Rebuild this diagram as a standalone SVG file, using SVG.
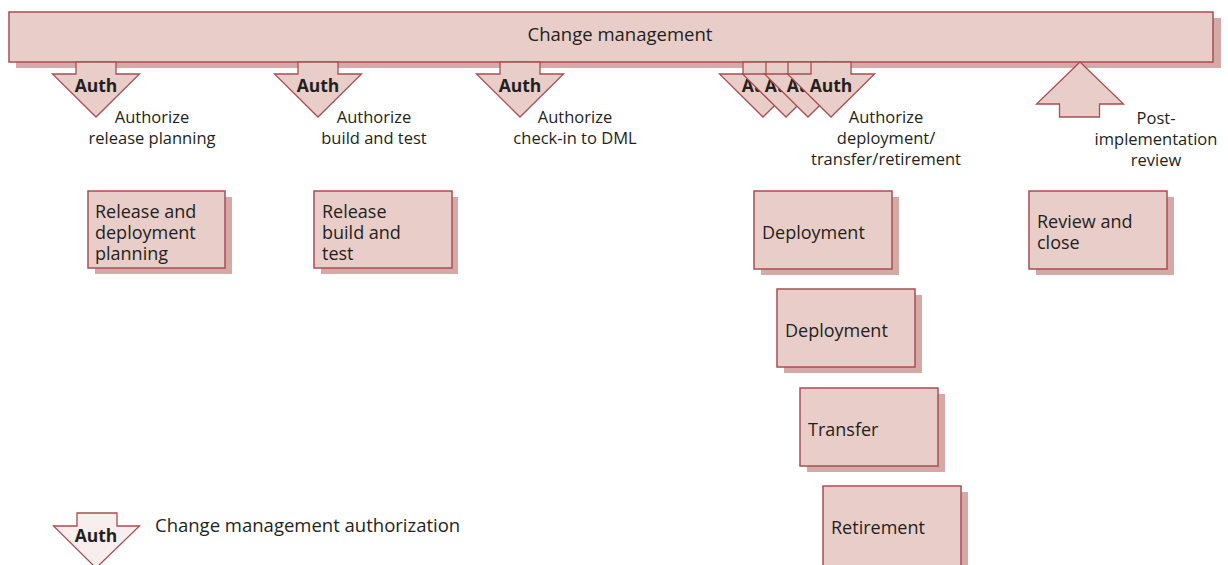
<svg xmlns="http://www.w3.org/2000/svg" width="1228" height="565" viewBox="0 0 1228 565">
<defs>
<style>
.sh{fill:#d5a9a6;stroke:none}
.bx{fill:#e9cdc9;stroke:#a94e52;stroke-width:1.5}
.ar{fill:#e9cdc9;stroke:#a94e52;stroke-width:1.3;stroke-linejoin:miter}
.lg{fill:#f8eeed;stroke:#a94e52;stroke-width:1.3}
text{font-family:"Open Sans","Noto Sans","Liberation Sans",sans-serif;fill:#231f20;font-size:16.5px}
.au{font-weight:bold;font-size:17.5px;text-anchor:middle}
.lb{text-anchor:middle}
.bt{font-size:18px}
</style>
<g id="authArrow">
<path d="M-20,0 V12 H-43.5 L0,55 L43.5,12 H20 V0 Z"/>
</g>
</defs>

<g id="change-management">
<rect class="sh" x="16" y="18" width="1205" height="50"/>
<rect class="bx" x="9" y="12" width="1204" height="50"/>
<text x="620" y="41" class="lb" style="font-size:18.5px">Change management</text>
</g>

<g id="connectors">
<g id="auth1">
<use href="#authArrow" class="ar" x="96" y="62"/>
<text x="96" y="92" class="au">Auth</text>
</g>
<g id="auth2">
<use href="#authArrow" class="ar" x="318" y="62"/>
<text x="318" y="92" class="au">Auth</text>
</g>
<g id="auth3">
<use href="#authArrow" class="ar" x="520" y="62"/>
<text x="520" y="92" class="au">Auth</text>
</g>
<g id="auth4a">
<use href="#authArrow" class="ar" x="763" y="62"/>
<text x="763" y="92" class="au">Auth</text>
</g>
<g id="auth4b">
<use href="#authArrow" class="ar" x="786" y="62"/>
<text x="786" y="92" class="au">Auth</text>
</g>
<g id="auth4c">
<use href="#authArrow" class="ar" x="808" y="62"/>
<text x="808" y="92" class="au">Auth</text>
</g>
<g id="auth4d">
<use href="#authArrow" class="ar" x="831" y="62"/>
<text x="831" y="92" class="au">Auth</text>
</g>
<g id="review-arrow">
<path class="ar" d="M1080,62 L1123.5,104 H1099.5 V117 H1059.5 V104 H1036.5 Z"/>
</g>
</g>

<g id="labels">
<text x="152" y="123" class="lb">Authorize</text>
<text x="152" y="144" class="lb">release planning</text>
<text x="374" y="123" class="lb">Authorize</text>
<text x="374" y="144" class="lb">build and test</text>
<text x="575" y="123" class="lb">Authorize</text>
<text x="575" y="144" class="lb">check-in to DML</text>
<text x="886" y="123" class="lb">Authorize</text>
<text x="886" y="144" class="lb">deployment/</text>
<text x="886" y="165" class="lb">transfer/retirement</text>
<text x="1156" y="124" class="lb">Post-</text>
<text x="1156" y="145" class="lb">implementation</text>
<text x="1156" y="166" class="lb">review</text>
</g>

<g id="release-planning">
<rect class="sh" x="95" y="197" width="137" height="77"/>
<rect class="bx" x="88" y="191" width="137" height="77"/>
<text class="bt" x="95" y="218">Release and</text>
<text class="bt" x="95" y="239">deployment</text>
<text class="bt" x="95" y="260">planning</text>
</g>

<g id="release-build">
<rect class="sh" x="321" y="197" width="137" height="77"/>
<rect class="bx" x="314" y="191" width="138" height="77"/>
<text class="bt" x="322" y="218">Release</text>
<text class="bt" x="322" y="239">build and</text>
<text class="bt" x="322" y="260">test</text>
</g>

<g id="deployment1">
<rect class="sh" x="761" y="197" width="138" height="78"/>
<rect class="bx" x="754" y="191" width="138" height="78"/>
<text class="bt" x="762" y="239">Deployment</text>
</g>

<g id="deployment2">
<rect class="sh" x="784" y="295" width="138" height="78"/>
<rect class="bx" x="777" y="289" width="138" height="78"/>
<text class="bt" x="785" y="337">Deployment</text>
</g>

<g id="transfer">
<rect class="sh" x="807" y="394" width="138" height="78"/>
<rect class="bx" x="800" y="388" width="138" height="78"/>
<text class="bt" x="808" y="436">Transfer</text>
</g>

<g id="retirement">
<rect class="sh" x="830" y="492" width="138" height="78"/>
<rect class="bx" x="823" y="486" width="138" height="82"/>
<text class="bt" x="831" y="534">Retirement</text>
</g>

<g id="review-close">
<rect class="sh" x="1036" y="197" width="138" height="78"/>
<rect class="bx" x="1029" y="191" width="138" height="78"/>
<text class="bt" x="1037" y="228">Review and</text>
<text class="bt" x="1037" y="249">close</text>
</g>

<g id="legend">
<path class="lg" d="M77,513 V526 H53.5 L96,568 L139.5,526 H117 V513 Z"/>
<text x="96" y="542" class="au">Auth</text>
<text x="155" y="532" style="font-size:18.5px">Change management authorization</text>
</g>
</svg>
